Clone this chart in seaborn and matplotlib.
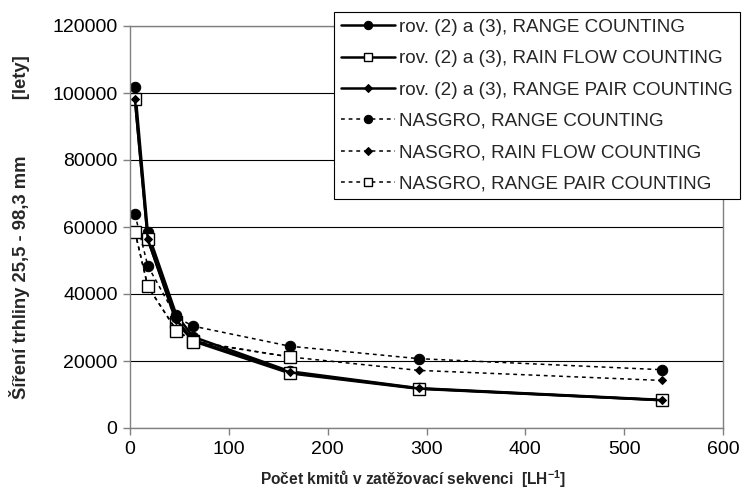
import numpy as np
import pandas as pd
import matplotlib
matplotlib.use('Agg')
import matplotlib.pyplot as plt
import seaborn as sns

# data
cycles = [5, 18, 47, 64, 162, 292, 538]
rov_range = [101700, 58400, 33700, 27200, 16900, 11900, 8400]
rov_rainflow = [98100, 56300, 31500, 25900, 16300, 11700, 8300]
rov_rangepair = [98100, 56300, 32200, 26300, 16600, 11800, 8300]
nas_range = [63800, 48400, 33000, 30400, 24400, 20700, 17400]
nas_rainflow = [58600, 42300, 29200, 25900, 21200, 17200, 14200]
nas_rangepair = [58600, 42300, 29000, 25700, 21200, np.nan, np.nan]

labels = ['rov. (2) a (3), RANGE COUNTING',
          'rov. (2) a (3), RAIN FLOW COUNTING',
          'rov. (2) a (3), RANGE PAIR COUNTING',
          'NASGRO, RANGE COUNTING',
          'NASGRO, RAIN FLOW COUNTING',
          'NASGRO, RANGE PAIR COUNTING']
series = [rov_range, rov_rainflow, rov_rangepair, nas_range, nas_rainflow, nas_rangepair]

sns.set_theme(style='white')
plt.rcParams['font.family'] = ['Liberation Sans', 'DejaVu Sans']
plt.rcParams['mathtext.fontset'] = 'custom'
plt.rcParams['mathtext.rm'] = 'Liberation Sans'
plt.rcParams['mathtext.bf'] = 'Liberation Sans:bold'

fig = plt.figure(figsize=(7.47, 4.95), dpi=100)
ax = fig.add_axes([130 / 747, 1 - 428 / 495, 593 / 747, 402 / 495])

solid = dict(color='black', linewidth=1.8, linestyle='-')
dashed = dict(color='black', linewidth=1.1, linestyle=(0, (2.5, 2.5)))
styles = [
    dict(marker='o', markersize=7.5, markerfacecolor='black', markeredgecolor='black', **solid),
    dict(marker='s', markersize=8, markerfacecolor='white', markeredgecolor='black', markeredgewidth=1.0, **solid),
    dict(marker='D', markersize=4.5, markerfacecolor='black', markeredgecolor='black', **solid),
    dict(marker='o', markersize=7.5, markerfacecolor='black', markeredgecolor='black', **dashed),
    dict(marker='D', markersize=4.5, markerfacecolor='black', markeredgecolor='black', **dashed),
    dict(marker='s', markersize=8, markerfacecolor='white', markeredgecolor='black', markeredgewidth=1.0, **dashed),
]

for vals, lab, st in zip(series, labels, styles):
    d = pd.DataFrame({'x': cycles, 'y': vals}).dropna()
    sns.lineplot(data=d, x='x', y='y', ax=ax, label=lab, estimator=None, **st)

ax.set_xlim(0, 600)
ax.set_ylim(0, 120000)
ax.set_xticks(range(0, 601, 100))
ax.set_yticks(range(0, 120001, 20000))
ax.yaxis.grid(True, color='black', linewidth=0.8)
ax.set_axisbelow(True)
for sp in ax.spines.values():
    sp.set_color('#808080')
    sp.set_linewidth(1.0)
ax.tick_params(axis='both', direction='out', length=5, width=1, color='#808080',
               labelsize=14, labelcolor='black', pad=4, left=True, bottom=True)

ax.set_xlabel(r'Počet kmitů v zatěžovací sekvenci  [LH$^{\mathbf{-1}}$]',
              fontsize=11.2, fontweight='bold', labelpad=4)
ax.xaxis.set_label_coords(0.478, -0.1)
ax.set_ylabel('Šíření trhliny 25,5 - 98,3 mm' + ' ' * 11 + '[lety]',
              fontsize=13.2, fontweight='bold')
ax.yaxis.set_label_coords(-0.168, 0.5)

ax.get_legend().remove()
h, l = ax.get_legend_handles_labels()
leg = fig.legend(h, l, loc='upper left', bbox_to_anchor=(334 / 747, 1 - 12 / 495),
                 fontsize=13.6, frameon=True, fancybox=False, edgecolor='black',
                 framealpha=1, handlelength=2.9, handletextpad=0.2, numpoints=1,
                 labelspacing=0.75, borderpad=0.35, borderaxespad=0, markerscale=0.8)
leg.get_frame().set_linewidth(0.8)

fig.savefig('out.png', dpi=100)
